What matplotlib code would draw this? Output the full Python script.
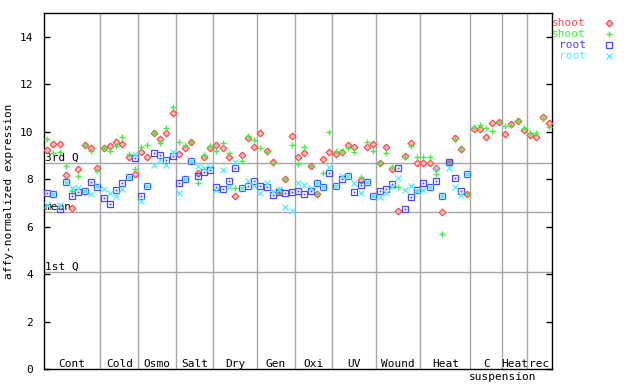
import numpy as np
import matplotlib
matplotlib.use('Agg')
import matplotlib.pyplot as plt

groups = ['Cont', 'Cold', 'Osmo', 'Salt', 'Dry', 'Gen', 'Oxi', 'UV', 'Wound',
          'Heat', 'C', 'Heat', 'rec']
group_sizes = [9, 6, 6, 6, 7, 6, 6, 7, 7, 8, 5, 4, 4]

q3 = 8.68
mean = 6.62
q1 = 4.09

shoot_red = [9.23, 9.5, 9.5, 8.17, 6.78, 8.42, 9.44, 9.33, 8.46,
             9.33, 9.41, 9.55, 9.5, 8.95, 8.22,
             9.16, 8.92, 9.93, 9.7, 9.93, 10.78,
             9.08, 9.3, 9.55, 8.27, 8.92, 9.3,
             9.44, 9.33, 8.92, 7.27, 9.02, 9.72, 9.35,
             9.94, 9.2, 8.71, 7.5, 7.99, 9.82,
             8.94, 9.1, 8.55, 7.37, 8.84, 9.15,
             9.05, 9.13, 9.44, 9.35, 7.97, 9.35, 9.47,
             8.67, 9.35, 8.42, 6.64, 8.96, 9.51, 8.67,
             8.7, 8.67, 8.46, 6.62, 8.71, 9.73, 9.25, 7.37,
             10.12, 10.12, 9.77, 10.36, 10.39,
             9.89, 10.33, 10.47, 10.05,
             9.87, 9.77, 10.61, 10.36]

shoot_green = [9.68, 9.09, 9.14, 8.56, 7.52, 8.12, 9.44, 9.2, 8.34,
               9.3, 9.2, 9.38, 9.76, 9.05, 8.42,
               9.37, 9.44, 9.93, 9.52, 10.16, 11.03,
               9.55, 9.42, 9.58, 7.82, 9.02, 9.38,
               9.19, 9.51, 9.09, 7.62, 8.78, 9.83, 9.64,
               9.3, 9.15, 8.7, 7.5, 7.99, 9.44,
               8.64, 9.35, 8.56, 7.37, 8.25, 9.98,
               9.19, 9.19, 9.33, 9.16, 8.08, 9.56, 9.2,
               8.67, 9.09, 8.5, 7.66, 8.95, 9.41, 8.92,
               8.92, 8.92, 8.22, 5.68, 8.71, 9.69, 9.3, 7.37,
               10.19, 10.29, 10.15, 10.01, 10.39,
               10.24, 10.29, 10.47, 10.15,
               9.94, 9.94, 10.54, 10.19]

nan = np.nan
root_blue = [7.41, 7.37, 6.74, 7.87, 7.28, 7.45, 7.5, 7.87, 7.68,
             7.19, 6.94, 7.56, 7.85, 8.1, 8.88,
             7.31, 7.71, 9.09, 9.02, 8.81, 8.98,
             7.82, 8.0, 8.77, 8.13, 8.28, 8.39,
             7.66, 7.58, 7.93, 8.46, 7.62, 7.73, 7.93,
             7.71, 7.66, 7.33, 7.45, 7.4, 7.45,
             7.5, 7.37, 7.5, 7.83, 7.66, 8.25,
             7.72, 8.0, 8.14, 7.45, 7.76, 7.9, 7.31,
             7.52, 7.58, 7.79, 8.46, 6.73, 7.24, 7.53,
             7.83, 7.66, 7.91, 7.27, 8.71, 8.04, 7.5, 8.22,
             nan, nan, nan, nan, nan,
             nan, nan, nan, nan,
             nan, nan, nan, nan]

root_cyan = [6.9, 7.37, 6.91, 7.87, 7.62, 7.62, 7.5, 7.37, 7.69,
             7.57, 7.43, 7.29, 7.57, 8.1, 9.06,
             7.08, 7.71, 8.6, 8.81, 8.6, 9.16,
             7.41, 8.0, 8.77, 8.55, 8.46, 8.52,
             7.55, 8.39, 7.66, 8.74, 7.62, 7.93, 7.72,
             7.43, 7.83, 7.48, 7.57, 6.82, 6.66,
             7.83, 7.76, 7.62, 7.83, 7.66, 8.51,
             7.72, 8.14, 8.14, 7.83, 7.41, 7.9, 7.31,
             7.23, 7.41, 7.66, 8.04, 7.55, 7.7, 7.5,
             7.55, 7.66, 8.46, 7.27, 8.46, 7.68, 7.32, 8.22,
             nan, nan, nan, nan, nan,
             nan, nan, nan, nan,
             nan, nan, nan, nan]

RED = '#ff4c4c'
GREEN = '#44ee44'
BLUE = '#4848ff'
CYAN = '#50eeff'
GRAY = '#a8a8a8'
FONT = 'DejaVu Sans Mono'

fig = plt.figure(figsize=(6.4, 3.84), dpi=100)
ax = fig.add_axes([44 / 640, 15 / 384, 508 / 640, 356 / 384])

n = sum(group_sizes)
x = np.arange(n) + 0.5
bounds = np.cumsum(group_sizes)

# grid / reference lines
for b in bounds[:-1]:
    ax.axvline(b, color=GRAY, lw=1.0, zorder=1)
for v in (q3, mean, q1):
    ax.axhline(v, color=GRAY, lw=1.0, zorder=1)
ax.text(0.1, q3, '3rd Q', family=FONT, fontsize=8, va='bottom', ha='left')
ax.text(0.1, mean, 'mean', family=FONT, fontsize=8, va='bottom', ha='left')
ax.text(0.1, q1, '1st Q', family=FONT, fontsize=8, va='bottom', ha='left')

# points
red_kw = dict(marker='D', ms=3.4, mfc='#ffc0c0', mec=RED, mew=0.9)
green_kw = dict(marker='+', ms=5, mec=GREEN, mew=1.0)
blue_kw = dict(marker='s', ms=3.8, mfc='none', mec=BLUE, mew=0.9)
cyan_kw = dict(marker='x', ms=3.8, mec=CYAN, mew=0.9)

ax.plot(x, shoot_red, ls='none', zorder=3, **red_kw)
ax.plot(x, shoot_green, ls='none', zorder=4, **green_kw)
ax.plot(x, root_blue, ls='none', zorder=5, **blue_kw)
ax.plot(x, root_blue, ls='none', marker='s', ms=1.0, mfc=BLUE,
        mec=BLUE, mew=0.2, zorder=5)
ax.plot(x, root_cyan, ls='none', zorder=6, **cyan_kw)

# group labels
starts = np.concatenate([[0], bounds[:-1]])
for name, s, e in zip(groups, starts, bounds):
    ax.text((s + e) / 2, 0.22, name, family=FONT, fontsize=8,
            ha='center', va='center')
ax.text(bounds[9] - 0.3, -0.35, 'suspension', family=FONT, fontsize=8,
        ha='left', va='center', clip_on=False)

ax.set_xlim(0, n)
ax.set_ylim(0, 15)
ax.set_xticks([])
ax.set_yticks(range(0, 15, 2))
ax.set_yticklabels([str(t) for t in range(0, 15, 2)], family=FONT, fontsize=8)
ax.tick_params(axis='y', direction='in', length=4, width=1, right=True,
               left=True, pad=8)
for sp in ax.spines.values():
    sp.set_linewidth(1.0)
ax.set_ylabel('affy-normalized expression', family=FONT, fontsize=8,
              labelpad=4)

# legend outside to the right
leg = [('shoot', RED, red_kw), ('shoot', GREEN, green_kw),
       ('root', BLUE, blue_kw), ('root', CYAN, cyan_kw)]
for k, (lab, col, kw) in enumerate(leg):
    yy = 1 - (23 + 11 * k) / 384
    fig.text(586 / 640, yy, lab, family=FONT, fontsize=8, color=col,
             ha='right', va='center')
    ax.plot([609 / 640], [yy], ls='none', transform=fig.transFigure,
            clip_on=False, **kw)

fig.savefig('out.png', dpi=100)
